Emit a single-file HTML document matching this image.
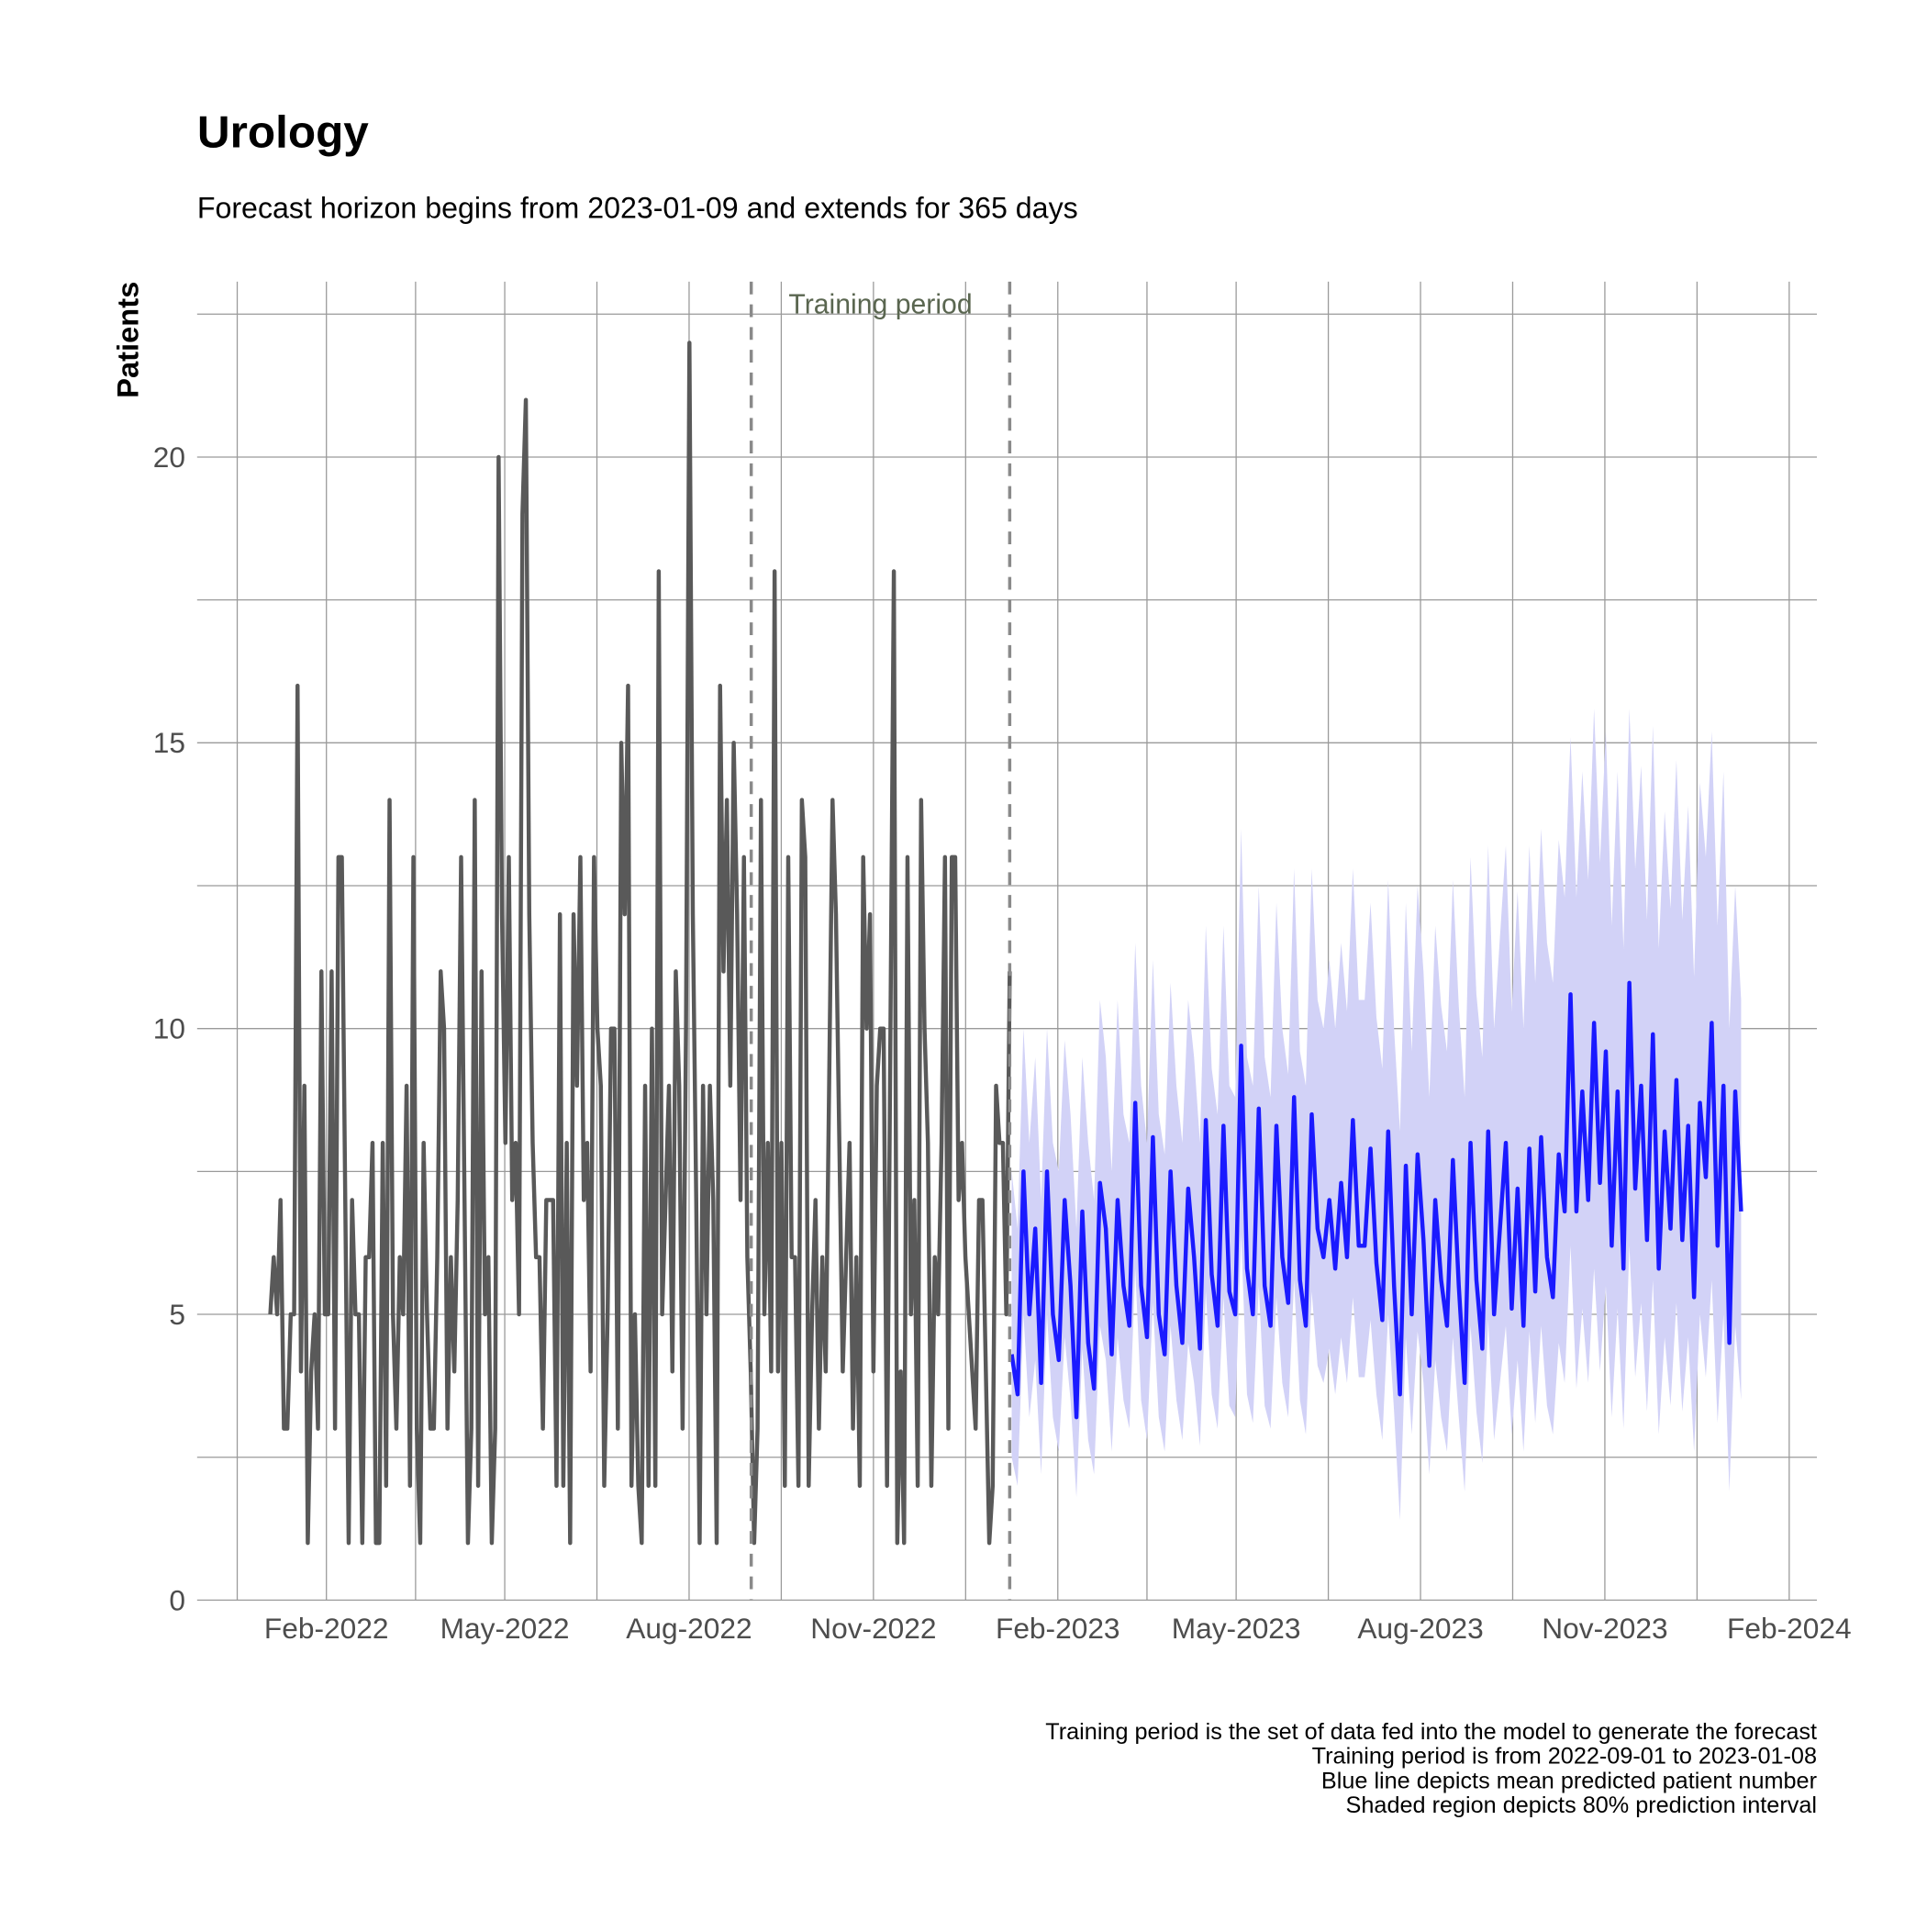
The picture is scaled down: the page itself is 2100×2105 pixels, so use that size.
<!DOCTYPE html>
<html><head><meta charset="utf-8">
<style>
html,body{margin:0;padding:0;background:#fff;}
svg text{font-family:"Liberation Sans",Arial,sans-serif;}
</style></head>
<body>
<svg id="chart" width="2100" height="2100" viewBox="0 0 2100 2100" xmlns="http://www.w3.org/2000/svg">
<rect width="2100" height="2100" fill="#fff"/>
<g transform="scale(0.99)">
<text x="217" y="162" font-size="50" font-weight="bold" fill="#000">Urology</text>
<text x="217" y="240" font-size="32.5" fill="#000">Forecast horizon begins from 2023-01-09 and extends for 365 days</text>
<text transform="translate(152,374) rotate(-90)" text-anchor="middle" font-size="33" font-weight="bold" fill="#000">Patients</text>
<g id="grid"></g>
<g id="band"></g>
<g id="lines"></g>
<g id="axes"></g>
<g font-size="25.5" fill="#000" text-anchor="end">
<text x="2000" y="1914">Training period is the set of data fed into the model to generate the forecast</text>
<text x="2000" y="1941">Training period is from 2022-09-01 to 2023-01-08</text>
<text x="2000" y="1968">Blue line depicts mean predicted patient number</text>
<text x="2000" y="1995">Shaded region depicts 80% prediction interval</text>
</g>
</g>
</svg>
<script>
const histStart = '2022-01-04';
const histEnd = '2023-01-08';
const histValues = [5,6,5,7,3,3,5,5,16,4,9,1,4,5,3,11,5,5,11,3,13,13,7,1,7,5,5,1,6,6,8,1,1,8,2,14,5,3,6,5,9,2,13,3,1,8,5,3,3,6,11,10,3,6,4,7,13,7,1,3,14,2,11,5,6,1,3,20,12,8,13,7,8,5,19,21,12,8,6,6,3,7,7,7,2,12,2,8,1,12,9,13,7,8,4,13,10,9,2,5,10,10,3,15,12,16,2,5,2,1,9,2,10,2,18,5,7,9,4,11,9,3,10,22,12,7,1,9,5,9,7,1,16,11,14,9,15,12,7,13,6,4,1,3,14,5,8,4,18,4,8,2,13,6,6,2,14,13,2,5,7,3,6,4,9,14,12,8,4,6,8,3,6,2,13,10,12,4,9,10,10,2,10,18,1,4,1,13,5,7,2,14,10,8,2,6,5,8,13,3,13,13,7,8,6,5,4,3,7,7,4,1,2,9,8,8,5,11];
const fcStart = '2023-01-09';
const fcEnd = '2024-01-08';
const fcMean = [4.3,3.6,7.5,5,6.5,3.8,7.5,5,4.2,7,5.5,3.2,6.8,4.5,3.7,7.3,6.5,4.3,7,5.5,4.8,8.7,5.5,4.6,8.1,5,4.3,7.5,5.5,4.5,7.2,6,4.4,8.4,5.7,4.8,8.3,5.4,5,9.7,5.8,5,8.6,5.5,4.8,8.3,6,5.2,8.8,5.6,4.8,8.5,6.5,6,7,5.8,7.3,6,8.4,6.2,6.2,7.9,5.9,4.9,8.2,5.5,3.6,7.6,5,7.8,6.3,4.1,7,5.6,4.8,7.7,5.5,3.8,8,5.6,4.4,8.2,5,6.5,8,5.1,7.2,4.8,7.9,5.4,8.1,6,5.3,7.8,6.8,10.6,6.8,8.9,7,10.1,7.3,9.6,6.2,8.9,5.8,10.8,7.2,9,6.3,9.9,5.8,8.2,6.5,9.1,6.3,8.3,5.3,8.7,7.4,10.1,6.2,9,4.5,8.9,6.8];
const fcUpper = [7.5,6.5,10,8,9.5,7,10,8,7.5,9.8,8.5,6.5,9.5,8,7,10.5,9.5,7.5,10.5,8.5,8,11.5,9,8,11.2,8.5,7.8,10.8,9,8,10.5,9.5,8,11.8,9.3,8.5,11.8,9,8.8,13.5,9.5,9,12.5,9.5,8.8,12.2,10,9.2,12.8,9.6,9,12.8,10.5,10,11.2,10,11.5,10.3,12.8,10.5,10.5,12.2,10.2,9.3,12.6,10,8.2,12.2,9.6,12.5,11,8.8,11.8,10.4,9.6,12.6,10.4,8.8,13,10.6,9.5,13.2,10,11.6,13.2,10.3,12.4,10,13.2,10.8,13.5,11.5,10.8,13.3,12.3,15.1,12.3,14.5,12.6,15.6,12.9,15.2,11.8,14.5,11.4,15.6,12.8,14.6,11.9,15.3,11.4,13.8,12.1,14.7,11.9,13.9,10.9,14.3,13,15.2,11.8,14.5,10,12.5,10.5];
const fcLower = [2.5,2,5,3.2,4.2,2.2,5,3.2,2.6,4.6,3.5,1.8,4.4,2.8,2.2,4.8,4.2,2.6,4.6,3.5,3,5.8,3.5,2.8,5.2,3.2,2.6,4.8,3.5,2.8,4.5,3.8,2.7,5.4,3.6,3,5.3,3.4,3.2,6.4,3.6,3.1,5.5,3.4,3,5.3,3.8,3.2,5.6,3.5,2.9,5.4,4.1,3.8,4.4,3.6,4.6,3.8,5.3,3.9,3.9,4.9,3.6,2.8,5,3.3,1.4,4.6,2.9,4.7,3.8,2.2,4.2,3.2,2.6,4.6,3.2,1.9,4.8,3.3,2.4,4.9,2.8,3.8,4.8,2.9,4.2,2.6,4.7,3.1,4.8,3.4,2.9,4.5,3.8,6.2,3.7,5.1,3.8,5.8,4,5.5,3.2,5.1,3,6.2,3.9,5.2,3.3,5.6,2.9,4.6,3.4,5.2,3.3,4.6,2.6,5,3.9,5.6,3.1,5,1.9,4.8,3.5];
const xTickLabels = ['Feb-2022','May-2022','Aug-2022','Nov-2022','Feb-2023','May-2023','Aug-2023','Nov-2023','Feb-2024'];
const xTickDates = ['2022-02-01','2022-05-01','2022-08-01','2022-11-01','2023-02-01','2023-05-01','2023-08-01','2023-11-01','2024-02-01'];
const yTicks = [0,5,10,15,20];
const trainStart = '2022-09-01';
const trainEnd = '2023-01-08';

const NS = 'http://www.w3.org/2000/svg';
const DAY = 86400000;
const x0Date = Date.parse('2022-02-01');
const pxPerDay = 2.2058, xAt0 = 359.3;
const PL = 217, PR = 2000, PT = 310, PB = 1761;
const yScale = v => 1761 - v * 62.9;
const xScale = d => xAt0 + ((typeof d === 'string' ? Date.parse(d) : d) - x0Date) / DAY * pxPerDay;
function mk(tag, attrs, parent) {
  const e = document.createElementNS(NS, tag);
  for (const k in attrs) e.setAttribute(k, attrs[k]);
  parent.appendChild(e);
  return e;
}
const grid = document.getElementById('grid');
for (let v = 0; v <= 22.5; v += 2.5) {
  const l = mk('line', {x1: PL, x2: PR, y1: yScale(v), y2: yScale(v), stroke: '#9a9a9a', 'stroke-width': 1.3}, grid);
  
  
}
const tms = xTickDates.map(d => Date.parse(d));
const vlines = [];
for (let i = 0; i < tms.length; i++) {
  vlines.push(tms[i]);
  if (i === 0) vlines.push(tms[0] - (tms[1] - tms[0]) / 2);
  if (i < tms.length - 1) vlines.push((tms[i] + tms[i + 1]) / 2);
}
vlines.forEach(t => {
  const x = xScale(t);
  if (x < PL || x > PR) return;
  const l = mk('line', {x1: x, x2: x, y1: PT, y2: PB, stroke: '#9a9a9a', 'stroke-width': 1.3}, grid);
  
  
});
function series(vals, s, e) {
  const a = Date.parse(s), b = Date.parse(e), n = vals.length;
  return vals.map((v, i) => [xScale(a + (b - a) * i / (n - 1)), yScale(v)]);
}
const n = Math.min(fcUpper.length, fcLower.length);
const up = series(fcUpper.slice(0, n), fcStart, fcEnd);
const lo = series(fcLower.slice(0, n), fcStart, fcEnd);
const bandPts = up.concat(lo.reverse()).map(p => p.join(',')).join(' ');
const band = mk('polygon', {points: bandPts, fill: '#d2d2f7', stroke: 'none'}, document.getElementById('band'));


const lines = document.getElementById('lines');
const hist = mk('polyline', {points: series(histValues, histStart, histEnd).map(p => p.join(',')).join(' '), fill: 'none', stroke: '#595959', 'stroke-width': 4.5, 'stroke-linejoin': 'round'}, lines);


const fc = mk('polyline', {points: series(fcMean, fcStart, fcEnd).map(p => p.join(',')).join(' '), fill: 'none', stroke: '#1a1aff', 'stroke-width': 4.5, 'stroke-linejoin': 'round'}, lines);


[trainStart, trainEnd].forEach(d => {
  const x = xScale(d);
  const l = mk('line', {x1: x, x2: x, y1: PT, y2: PB, stroke: '#8a8a8a', 'stroke-width': 3.5, 'stroke-dasharray': '14,11'}, lines);
  
  
});
const tl = mk('text', {x: (xScale(trainStart) + xScale(trainEnd)) / 2, y: 345, 'text-anchor': 'middle', 'font-size': 30.5, fill: '#5a6650'}, lines);
tl.textContent = 'Training period';


const axes = document.getElementById('axes');
xTickLabels.forEach((lab, i) => {
  const t = mk('text', {x: xScale(xTickDates[i]), y: 1803, 'text-anchor': 'middle', 'font-size': 32, fill: '#4d4d4d'}, axes);
  t.textContent = lab;
  
  
});
yTicks.forEach(v => {
  const t = mk('text', {x: 204, y: yScale(v) + 11, 'text-anchor': 'end', 'font-size': 32, fill: '#4d4d4d'}, axes);
  t.textContent = v;
  
  
});
</script>
</body></html>
